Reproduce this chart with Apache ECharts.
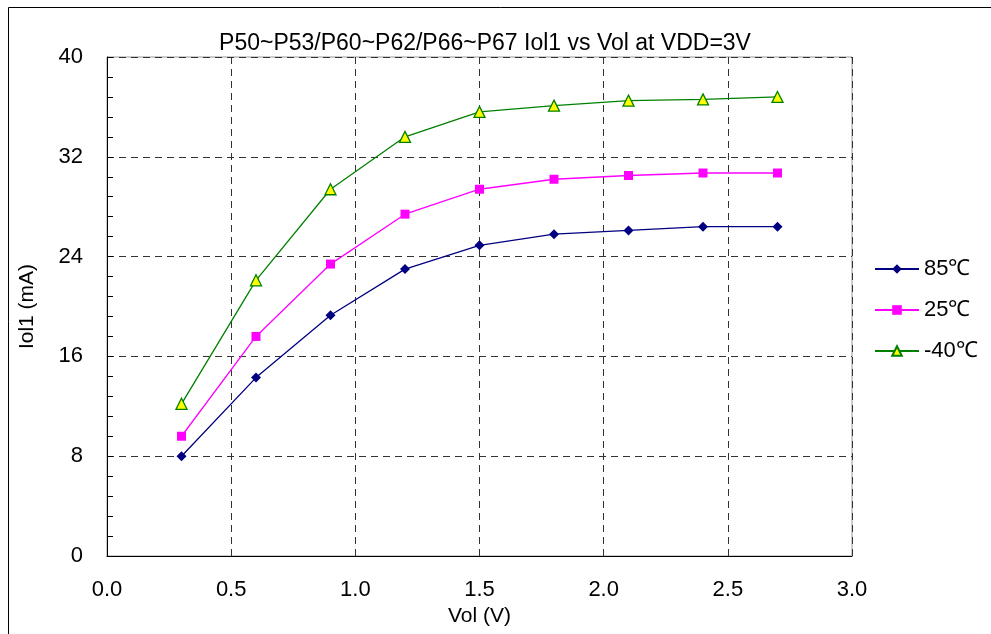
<!DOCTYPE html>
<html>
<head>
<meta charset="utf-8">
<script src="https://cdn.jsdelivr.net/npm/echarts@6/dist/echarts.min.js"></script>
<style>html,body{margin:0;padding:0;background:#fff;}#c{width:991px;height:634px;}</style>
</head>
<body>
<div id="c"></div>
<script>
var vol = [0.3, 0.6, 0.9, 1.2, 1.5, 1.8, 2.1, 2.4, 2.7];
var iol85 = [8.0, 14.3, 19.3, 23.0, 24.9, 25.8, 26.1, 26.4, 26.4];
var iol25 = [9.6, 17.6, 23.4, 27.4, 29.4, 30.2, 30.5, 30.7, 30.7];
var iolM40 = [12.2, 22.1, 29.4, 33.6, 35.6, 36.1, 36.5, 36.6, 36.8];
var seriesNames = ['85\u2103', '25\u2103', '-40\u2103'];
var titleText = 'P50~P53/P60~P62/P66~P67 Iol1 vs Vol at VDD=3V';

function pairs(ys){ return vol.map(function(x,i){ return [x, ys[i]]; }); }
var FONT = '"Liberation Sans", Arial, sans-serif';
var chart = echarts.init(document.getElementById('c'), null, {renderer:'canvas'});
chart.setOption({
  animation:false,
  backgroundColor:'#fff',
  textStyle:{fontFamily:FONT},
  title:{text:titleText, left:480, top:27, textAlign:'center',
    textStyle:{fontFamily:FONT, fontSize:23, fontWeight:'normal', color:'#000'}},
  graphic:[{type:'rect', shape:{x:8.5,y:7.5,width:1000,height:700}, style:{fill:'none', stroke:'#000', lineWidth:1}, z:-1}],
  grid:{left:107, right:139, top:57, bottom:78, show:true, borderColor:'#999', borderWidth:1, backgroundColor:'transparent'},
  legend:{orient:'vertical', left:869, top:253, itemGap:19, itemWidth:44, itemHeight:12,
    textStyle:{fontFamily:FONT, fontSize:22, color:'#000'}, data:seriesNames},
  xAxis:{type:'value', min:0, max:3, interval:0.5,
    name:'Vol (V)', nameLocation:'middle', nameGap:49,
    nameTextStyle:{fontFamily:FONT, fontSize:21, color:'#000'},
    axisLine:{show:true, onZero:false, lineStyle:{color:'#000', width:1}},
    axisTick:{show:false},
    axisLabel:{fontFamily:FONT, fontSize:22, color:'#000', margin:23, formatter:function(v){return v.toFixed(1);}},
    splitLine:{show:true, lineStyle:{color:'#333', type:[7,5], width:1}}},
  yAxis:{type:'value', min:0, max:40, interval:8,
    name:'Iol1 (mA)', nameLocation:'middle', nameGap:69,
    nameTextStyle:{fontFamily:FONT, fontSize:21, color:'#000'},
    axisLine:{show:true, lineStyle:{color:'#000', width:1}},
    axisTick:{show:true, inside:true, length:6, lineStyle:{color:'#000'}},
    minorTick:{show:true, splitNumber:5, length:6, lineStyle:{color:'#000'}},
    axisLabel:{fontFamily:FONT, fontSize:22, color:'#000', margin:24},
    splitLine:{show:true, lineStyle:{color:'#333', type:[7,5], width:1}}},
  series:[
    {name:seriesNames[0], type:'line', data:pairs(iol85), symbol:'diamond', symbolSize:10,
      lineStyle:{color:'#000080', width:1.3}, itemStyle:{color:'#000080'}},
    {name:seriesNames[1], type:'line', data:pairs(iol25), symbol:'rect', symbolSize:9,
      lineStyle:{color:'#FF00FF', width:1.3}, itemStyle:{color:'#FF00FF'}},
    {name:seriesNames[2], type:'line', data:pairs(iolM40), symbol:'triangle', symbolSize:11,
      lineStyle:{color:'#008000', width:1.3}, itemStyle:{color:'#FFFF00', borderColor:'#008000', borderWidth:1.3}}
  ]
});
</script>
</body>
</html>
